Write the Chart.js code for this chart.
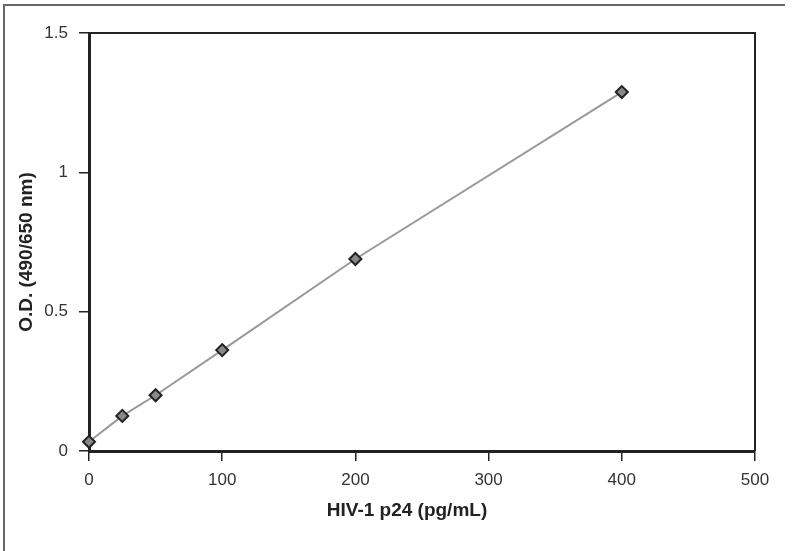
<!DOCTYPE html>
<html>
<head>
<meta charset="utf-8">
<script src="https://cdn.jsdelivr.net/npm/chart.js@4"></script>
<style>
  html, body { margin: 0; padding: 0; background: #fff; }
  #wrap { position: relative; width: 792px; height: 551px; }
  #frame { position: absolute; left: 3px; top: 4px; width: 780px; height: 560px;
           border-top: 2px solid #666; border-left: 2px solid #666; }
  canvas { position: absolute; left: 0; top: 0; }
</style>
</head>
<body>
<div id="wrap">
  <div id="frame"></div>
  <canvas id="chart" width="792" height="551"></canvas>
</div>
<script>
// p24 standard curve
const concentrations = [0, 25, 50, 100, 200, 400];
const odValues = [0.033, 0.126, 0.200, 0.362, 0.689, 1.288];
const xTitle = 'HIV-1 p24 (pg/mL)';
const yTitle = 'O.D. (490/650 nm)';

const axisColor = '#222';
const font = 'Arial, "Liberation Sans", sans-serif';

// top/right frame of the plot plus the two axis titles
const framePlugin = {
    id: 'framePlugin',
    afterDraw(chart) {
        const { ctx, chartArea } = chart;
        ctx.save();
        ctx.strokeStyle = axisColor;
        ctx.lineWidth = 2;
        ctx.beginPath();
        ctx.moveTo(chartArea.left, chartArea.top);
        ctx.lineTo(chartArea.right, chartArea.top);
        ctx.lineTo(chartArea.right, chartArea.bottom);
        ctx.stroke();

        ctx.fillStyle = '#222';
        ctx.font = 'bold 19px ' + font;
        ctx.textAlign = 'center';
        ctx.textBaseline = 'middle';
        ctx.fillText(xTitle, 407, 511);
        ctx.translate(27, 252);
        ctx.rotate(-Math.PI / 2);
        ctx.fillText(yTitle, 0, 0);
        ctx.restore();
    }
};

const ctx = document.getElementById('chart');
new Chart(ctx, {
    type: 'line',
    data: {
        datasets: [{
            data: concentrations.map((c, i) => ({ x: c, y: odValues[i] })),
            borderColor: '#999',
            borderWidth: 2,
            pointStyle: 'rectRot',
            pointRadius: 6,
            pointBackgroundColor: '#888',
            pointBorderColor: '#222',
            pointBorderWidth: 2,
            tension: 0,
            clip: false
        }]
    },
    options: {
        responsive: false,
        animation: false,
        layout: { padding: { left: 0, top: 33, right: 37, bottom: 0 } },
        plugins: { legend: { display: false }, tooltip: { enabled: false } },
        scales: {
            x: {
                type: 'linear',
                min: 0,
                max: 500,
                afterFit: s => { s.height = 100; },
                border: { display: true, color: axisColor, width: 3 },
                grid: { drawOnChartArea: false, drawTicks: true, tickLength: 10, color: axisColor, lineWidth: 1.5 },
                ticks: { stepSize: 100, color: '#333', padding: 9, font: { family: font, size: 17 } }
            },
            y: {
                min: 0,
                max: 1.5,
                afterFit: s => { s.width = 89; },
                border: { display: true, color: axisColor, width: 3 },
                grid: { drawOnChartArea: false, drawTicks: true, tickLength: 10, color: axisColor, lineWidth: 1.5 },
                ticks: {
                    stepSize: 0.5,
                    color: '#333',
                    padding: 11,
                    font: { family: font, size: 17 },
                    callback: v => String(v)
                }
            }
        }
    },
    plugins: [framePlugin]
});
</script>
</body>
</html>
